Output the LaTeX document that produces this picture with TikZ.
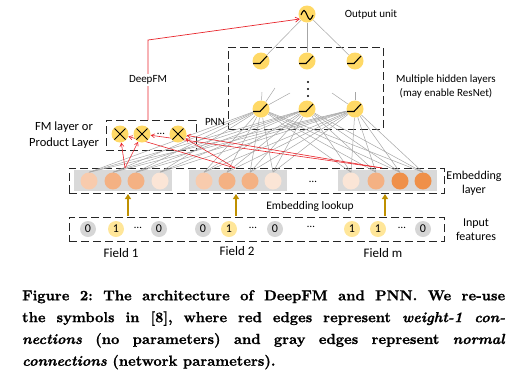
\documentclass[tikz,border=0pt]{standalone}
\usepackage{fontspec}
\newfontfamily\diagfont{Carlito}
\newfontfamily\capfont{lmroman10-bold}[Extension=.otf,ItalicFont=lmroman10-bolditalic,FakeBold=1.0]
\usetikzlibrary{arrows.meta,calc}
\pgfdeclarelayer{bg}\pgfdeclarelayer{edges}
\pgfsetlayers{bg,edges,main}
\definecolor{embA}{HTML}{F8CBAD}
\definecolor{embB}{HTML}{F4B183}
\definecolor{embC}{HTML}{FBE5D6}
\definecolor{embD}{HTML}{EF9049}
\definecolor{grp}{HTML}{D9D9D9}
\definecolor{zeroc}{HTML}{D6D6D6}
\definecolor{onec}{HTML}{FFE699}
\definecolor{hidc}{HTML}{FFD966}
\definecolor{goldc}{HTML}{BF9000}
\definecolor{redc}{HTML}{E8262C}
\definecolor{edgec}{HTML}{A6A6A6}
\begin{document}
\begin{tikzpicture}[x=1pt,y=-1pt,
  dbox/.style={draw=black!85,line width=0.8pt,dash pattern=on 8pt off 4pt},
  grpbox/.style={fill=grp,draw=none},
  emb/.style={circle,draw=none,minimum size=17pt,inner sep=0pt},
  inp/.style={circle,draw=none,minimum size=16pt,inner sep=0pt,font=\diagfont\fontsize{12}{14}\selectfont},
  hid/.style={circle,fill=hidc,draw=none,minimum size=17pt,inner sep=0pt},
  sym/.style={draw=black,line width=1.1pt},
  grayedge/.style={draw=edgec,line width=0.5pt},
  rededge/.style={draw=redc,line width=0.6pt,-{Straight Barb[length=3.5pt,width=4pt]}},
  goldarrow/.style={draw=goldc,line width=1.3pt,-{Triangle[length=5pt,width=6pt]}},
  lab/.style={font=\diagfont\fontsize{11}{13.5}\selectfont,inner sep=0pt,align=center},
  dots/.style={font=\diagfont\fontsize{11}{12}\selectfont,inner sep=0pt}
]
\useasboundingbox (0,0) rectangle (521,384);

% ---------- dashed boxes and groups ----------
\begin{pgfonlayer}{bg}
\node[dbox,minimum width=155pt,minimum height=82pt,inner sep=0pt] (hbox) at (305.5,88) {};
\node[dbox,minimum width=90pt,minimum height=30pt,inner sep=0pt] (fmbox) at (151,135) {};
\node[dbox,minimum width=375pt,minimum height=25pt,inner sep=0pt] (ebox) at (256.5,180.5) {};
\node[dbox,minimum width=375pt,minimum height=24pt,inner sep=0pt] (ibox) at (256.5,229) {};
\node[grpbox,minimum width=98pt,minimum height=21pt,inner sep=0pt] (g1) at (123,180.5) {};
\node[grpbox,minimum width=98pt,minimum height=21pt,inner sep=0pt] (g2) at (238,180.5) {};
\node[grpbox,minimum width=99pt,minimum height=21pt,inner sep=0pt] (g3) at (387.5,180.5) {};
\end{pgfonlayer}

% ---------- output and hidden nodes ----------
\node[hid] (o) at (307,14) {};
\node[hid] (h11) at (261,61) {};
\node[hid] (h12) at (307,61) {};
\node[hid] (h13) at (355,61) {};
\node[hid] (h21) at (261,109) {};
\node[hid] (h22) at (307,109) {};
\node[hid] (h23) at (355,109) {};
\foreach \y [count=\i] in {82,89,96} \fill[black] (308,\y) circle (1.1pt) coordinate (vd\i);

% ---------- FM nodes ----------
\node[hid] (f1) at (120,134) {};
\node[hid] (f2) at (142,134) {};
\node[hid] (f3) at (178,134) {};
\node[dots] (fdots) at (161,134) {…};

% ---------- embedding nodes ----------
\node[emb,fill=embA] (e1) at (89,181) {};
\node[emb,fill=embB] (e2) at (113,181) {};
\node[emb,fill=embB] (e3) at (136,181) {};
\node[emb,fill=embC] (e4) at (160,181) {};
\node[emb,fill=embA] (e5) at (204,181) {};
\node[emb,fill=embB] (e6) at (227,181) {};
\node[emb,fill=embB] (e7) at (250,181) {};
\node[emb,fill=embC] (e8) at (273,181) {};
\node[emb,fill=embC] (e9) at (351,181) {};
\node[emb,fill=embB] (e10) at (376,181) {};
\node[emb,fill=embD] (e11) at (400,181) {};
\node[emb,fill=embD] (e12) at (423,181) {};
\node[dots] (edots) at (313,182) {…};

% ---------- input nodes ----------
\node[inp,fill=zeroc] (i1) at (88,229) {0};
\node[inp,fill=onec] (i2) at (116,229) {1};
\node[dots] (i3) at (138,228) {…};
\node[inp,fill=zeroc] (i4) at (159,229) {0};
\node[inp,fill=zeroc] (i5) at (203,229) {0};
\node[inp,fill=onec] (i6) at (229,229) {1};
\node[dots] (i7) at (253,228) {…};
\node[inp,fill=zeroc] (i8) at (275,229) {0};
\node[dots] (i9) at (311,227) {…};
\node[inp,fill=onec] (i10) at (352,229) {1};
\node[inp,fill=onec] (i11) at (378,229) {1};
\node[dots] (i12) at (402,228) {…};
\node[inp,fill=zeroc] (i13) at (423,229) {0};

% ---------- symbols inside nodes ----------
\draw[sym] (o.center) ++(-6,1) sin ++(3,-4.5) cos ++(3,4.5) sin ++(3,4.5) cos ++(3,-4.5);
\foreach \n in {h11,h12,h13,h21,h22,h23}
  \draw[sym] (\n.center) ++(-8,2.5) -- ++(7,0) -- ++(7,-7.5);
\foreach \n in {f1,f2,f3}
  \draw[sym,line width=0.9pt] (\n.center) ++(-5.5,-5.5) -- ++(11,11) ++(0,-11) -- ++(-11,11);

% ---------- edges ----------
\coordinate (r1) at (125,168);
\coordinate (r2) at (235,168);
\coordinate (r3) at (382,168);
\coordinate (s1) at (262,92);
\coordinate (s2) at (275,88);
\coordinate (s3) at (290,93);
\coordinate (s4) at (332,93);
\coordinate (s5) at (355,92);
\coordinate (dfmstart) at (148,120);
\coordinate (dfmbend) at (148,40);
\begin{pgfonlayer}{edges}
\foreach \h in {h21,h22,h23}
  \foreach \e in {e1,e2,e3,e4,e5,e6,e7,e8,e9,e10,e11,e12}
    \draw[grayedge] (\h) -- (\e.north);
\foreach \h in {h11,h12,h13} \draw[grayedge] (o) -- (\h);
\draw[grayedge] (s1) -- (h21);
\draw[grayedge] (s2) -- (h21);
\draw[grayedge] (s3) -- (h21);
\draw[grayedge] (s4) -- (h23);
\draw[grayedge] (s5) -- (h23);
\draw[rededge] (r1) -- (f1);
\draw[rededge] (r1) -- (f2);
\draw[rededge] (r2) -- (f1);
\draw[rededge] (r2) -- (f3);
\draw[rededge] (r3) -- (f2);
\draw[rededge] (r3) -- (f3);
\draw[redc,line width=0.7pt,-{Straight Barb[length=4pt,width=5pt]}] (dfmstart) -- (dfmbend) -- (o.215);
\end{pgfonlayer}

% gold lookup arrows
\coordinate (a1b) at (128,216); \coordinate (a1t) at (128,194);
\coordinate (a2b) at (236,216); \coordinate (a2t) at (236,194);
\coordinate (a3b) at (385,216); \coordinate (a3t) at (385,194);
\draw[goldarrow] (a1b) -- (a1t);
\draw[goldarrow] (a2b) -- (a2t);
\draw[goldarrow] (a3b) -- (a3t);

% ---------- labels ----------
\node[lab,fill=white,inner sep=2pt] (ldeep) at (148,80) {DeepFM};
\node[lab] (lout) at (371,15) {Output unit};
\node[lab] (lhid) at (446,86.5) {Multiple hidden layers\\(may enable ResNet)};
\node[lab] (lpnn) at (215,122) {PNN};
\node[lab,font=\diagfont\fontsize{12.5}{16}\selectfont] (lfm) at (64,135) {FM layer or\\Product Layer};
\node[lab,font=\diagfont\fontsize{12}{14}\selectfont] (lemb) at (474,183) {Embedding\\layer};
\node[lab,font=\diagfont\fontsize{11.5}{13}\selectfont] (llook) at (310,206) {Embedding lookup};
\node[lab,font=\diagfont\fontsize{12}{13.5}\selectfont] (linp) at (476,229.5) {Input\\features};
\node[lab,font=\diagfont\fontsize{13}{15}\selectfont] (lf1) at (121,253) {Field 1};
\node[lab,font=\diagfont\fontsize{13}{15}\selectfont] (lf2) at (237,251) {Field 2};
\node[lab,font=\diagfont\fontsize{13}{15}\selectfont] (lfm2) at (383,253) {Field m};

% ---------- caption ----------
\node[anchor=north west,text width=483pt,align=justify,inner sep=0pt,
      font=\frenchspacing\capfont\fontsize{14.5}{21.8}\selectfont] (cap) at (22,290)
{Figure 2: The architecture of DeepFM and PNN. We re-use\linebreak
the symbols in [8], where red edges represent \textit{weight-1 con-}\linebreak
\textit{nections} (no parameters) and gray edges represent \textit{normal}\linebreak
\textit{connections} (network parameters).};
\end{tikzpicture}
\end{document}
